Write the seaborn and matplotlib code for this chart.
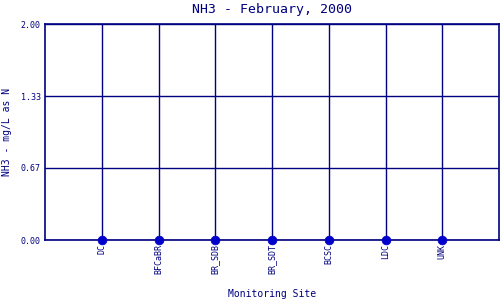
import matplotlib
matplotlib.use("Agg")
import matplotlib.pyplot as plt
import seaborn as sns
import pandas as pd

sites = ["DC", "BFCaBR", "BR_SDB", "BR_SDT", "BCSC", "LDC", "UNK"]
values = [0.0, 0.0, 0.0, 0.0, 0.0, 0.0, 0.0]
yticks = [0.0, 0.67, 1.33, 2.00]
ytick_labels = ["0.00", "0.67", "1.33", "2.00"]

sns.set_style("white")
plt.rcParams['font.family'] = ['DejaVu Sans Mono', 'DejaVu Sans']

navy = "#000080"
df = pd.DataFrame({"site": sites, "value": values})

fig = plt.figure(figsize=(5, 3), dpi=100)
ax = fig.add_axes([0.09, 0.2, 0.908, 0.72])

sns.scatterplot(data=df, x="site", y="value", ax=ax, color="#0000CC",
                s=40, edgecolor="#0000CC", zorder=5, clip_on=False)

ax.set_xlim(-1, len(sites))
ax.set_ylim(0, 2.0)
ax.set_yticks(yticks)
ax.set_yticklabels(ytick_labels)
ax.set_xticks(range(len(sites)))
ax.set_xticklabels(sites, rotation=90)

ax.grid(True, color=navy, linewidth=1.0)
ax.set_axisbelow(True)
for sp in ax.spines.values():
    sp.set_color(navy)
    sp.set_linewidth(1.2)

ax.tick_params(axis='both', length=0, labelsize=6, colors=navy, pad=3)
ax.set_xlabel("Monitoring Site", fontsize=7, color=navy, labelpad=11)
ax.set_ylabel("NH3 - mg/L as N", fontsize=7, color=navy, labelpad=6)
ax.set_title("NH3 - February, 2000", fontsize=9.5, color=navy, pad=8)

fig.savefig("out.png", dpi=100)
